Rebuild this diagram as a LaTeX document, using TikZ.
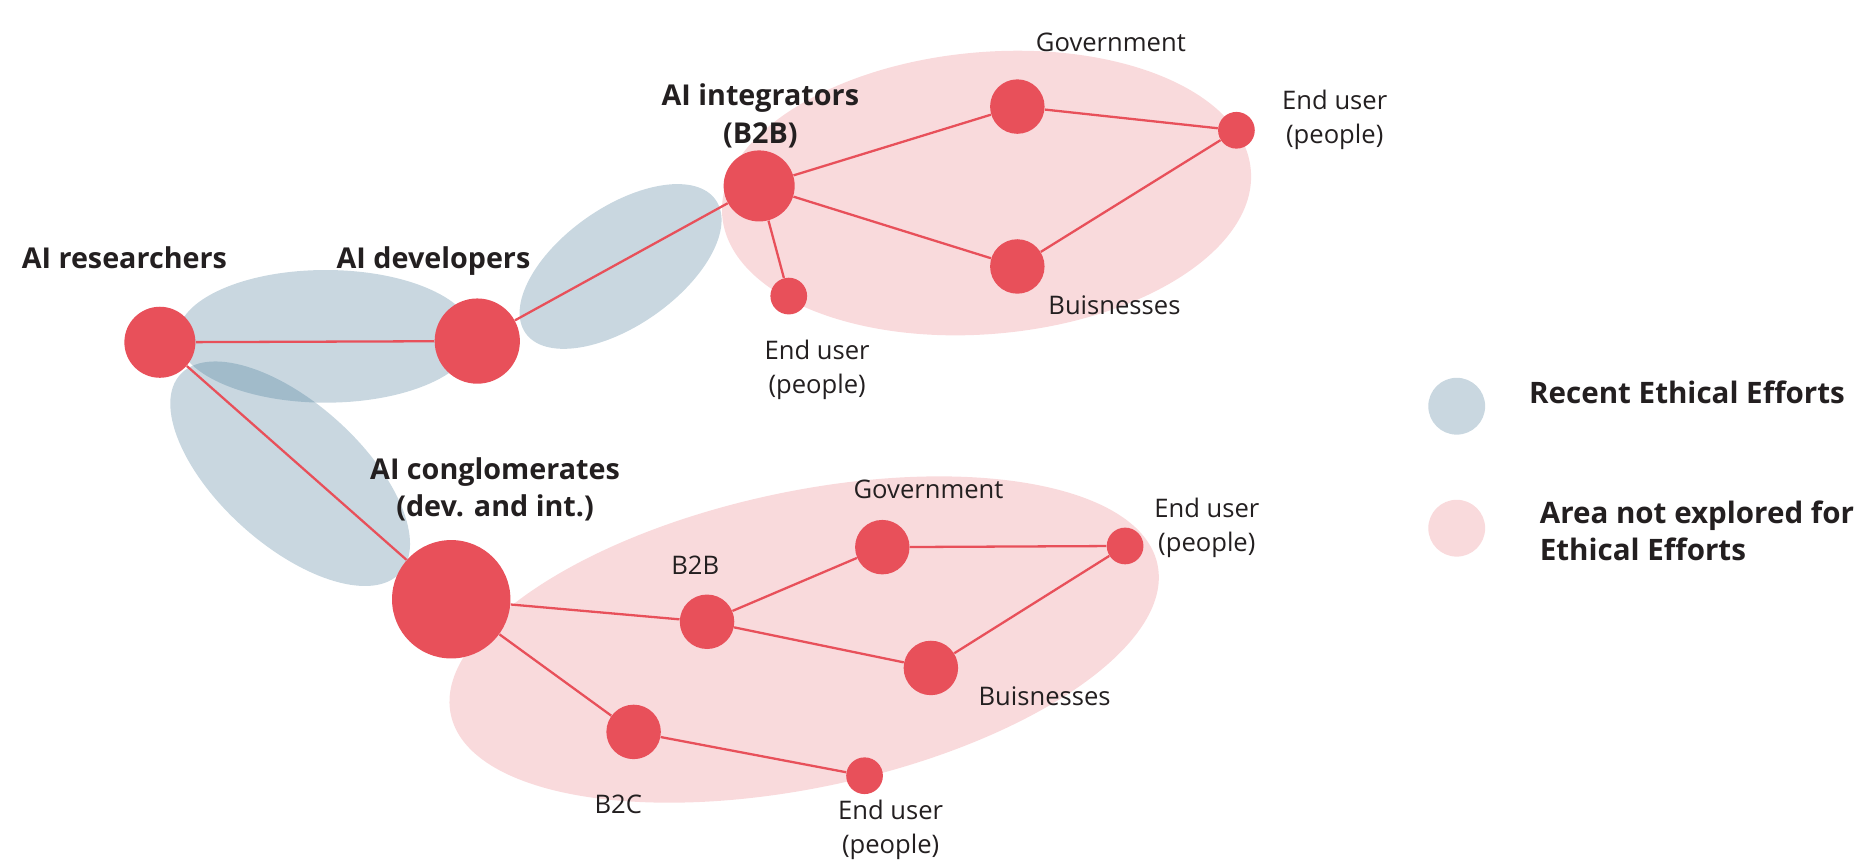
\documentclass[tikz,border=0pt]{standalone}
\usepackage{fontspec}
\setmainfont{Open Sans}
\usepackage{tikz}
\usetikzlibrary{calc,positioning}
\definecolor{effort}{RGB}{54,109,142}
\definecolor{unexpl}{RGB}{249,218,220}
\definecolor{actor}{RGB}{232,80,90}
\definecolor{ink}{RGB}{35,31,32}
\tikzset{
  hub/.style={circle,fill=actor,inner sep=0pt,minimum size=2cm},
  major/.style={circle,fill=actor,inner sep=0pt,minimum size=1.44cm},
  role/.style={circle,fill=actor,inner sep=0pt,minimum size=1.2cm},
  mid/.style={circle,fill=actor,inner sep=0pt,minimum size=0.92cm},
  user/.style={circle,fill=actor,inner sep=0pt,minimum size=0.62cm},
  link/.style={draw=actor,line width=1.1pt},
  recent/.style={fill=effort,fill opacity=0.27},
  unexplored/.style={fill=unexpl},
  title/.style={font=\fontsize{13.8}{18}\selectfont\bfseries,align=center,text=ink},
  lab/.style={font=\fontsize{12.3}{16.3}\selectfont,align=center,text=ink},
  legend/.style={font=\fontsize{14.2}{18}\selectfont\bfseries,align=left,anchor=west,text=ink},
}

\begin{document}
\begin{tikzpicture}[x=0.02cm, y=-0.02cm]
   \useasboundingbox (0,0) rectangle (1568,729);
   % areas
   \fill[unexplored, rotate around={5:(833,163)}] (833,163) ellipse (224 and 119);
   \fill[unexplored, rotate around={12:(679,540)}] (679,540) ellipse (305 and 125);
   \fill[recent] (275,284) ellipse (125 and 56);
   \fill[recent, rotate around={35:(524,225)}] (524,225) ellipse (98 and 50);
   \fill[recent, rotate around={-42:(245,400)}] (245,400) ellipse (125 and 60);

   % actors
   \node[role] (res) at (135,289) {};
   \node[major] (dev) at (403,288) {};
   \node[role] (int) at (641,157) {};
   \node[mid] (gov1) at (859,90) {};
   \node[user] (usr1) at (1044,110) {};
   \node[mid] (bus1) at (859,225) {};
   \node[user] (usr2) at (666,250) {};
   \node[hub] (con) at (381,506) {};
   \node[mid] (b2b) at (597,525) {};
   \node[mid] (gov2) at (745,462) {};
   \node[user] (usr3) at (950,461) {};
   \node[mid] (bus2) at (786,564) {};
   \node[mid] (b2c) at (535,618) {};
   \node[user] (usr4) at (730,655) {};

  \path[link]
    (res) edge (dev)
          edge (con)
    (dev) edge (int)
    (int) edge (gov1)
          edge (bus1)
          edge (usr2)
    (usr1) edge (gov1)
           edge (bus1)
    (con) edge (b2b)
          edge (b2c)
    (b2b) edge (gov2)
          edge (bus2)
    (usr3) edge (gov2)
           edge (bus2)
    (b2c) edge (usr4);

   % labels
   \node[title] (tres) at (105,218) {AI researchers};
   \node[title] (tdev) at (366,220) {AI developers};
   \node[title] (tint) at (642,98) {AI integrators\\(B2B)};
   \node[title] (tcon) at (418,413) {AI conglomerates\\(dev. and int.)};
   \node[lab] (tgov1) at (938,36) {Government};
   \node[lab] (tusr1) at (1127,101) {End user\\(people)};
   \node[lab] (tbus1) at (941,258) {Buisnesses};
   \node[lab] (tusr2) at (690,312) {End user\\(people)};
   \node[lab] (tgov2) at (784,413) {Government};
   \node[lab] (tusr3) at (1019,446) {End user\\(people)};
   \node[lab] (tb2b) at (587,477) {B2B};
   \node[lab] (tbus2) at (882,588) {Buisnesses};
   \node[lab] (tb2c) at (522,679) {B2C};
   \node[lab] (tusr4) at (752,701) {End user\\(people)};

   % legend
   \node[recent,circle,inner sep=0pt,minimum size=0.96cm] (kblue) at (1230,343) {};
   \node[unexplored,circle,inner sep=0pt,minimum size=0.96cm] (kpink) at (1230,446) {};
   \node[legend] (tblue) at (1285,331) {Recent Ethical Efforts};
   \node[legend] (tpink) at (1294,448) {Area not explored for\\Ethical Efforts};
\end{tikzpicture}
\end{document}
